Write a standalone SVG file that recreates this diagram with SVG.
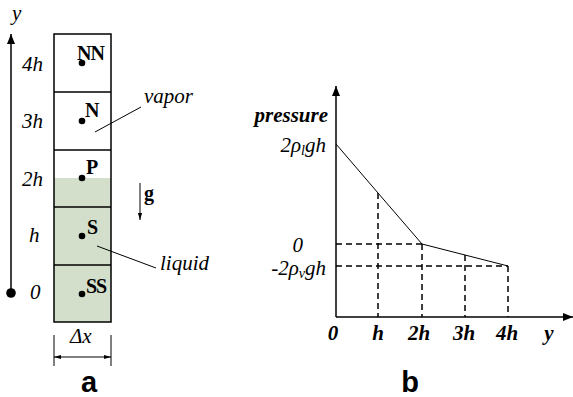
<svg xmlns="http://www.w3.org/2000/svg" width="573" height="397" viewBox="0 0 573 397" font-family="Liberation Serif, DejaVu Serif, serif">
<style>
.ln{stroke:#000;stroke-width:1.5;fill:none}
.th{stroke:#000;stroke-width:1;fill:none}
.ds{stroke:#000;stroke-width:1.5;fill:none;stroke-dasharray:6 4}
.it{font-style:italic;font-size:21px;fill:#000}
.bd{font-weight:bold;font-size:20px;fill:#000}
.bi{font-weight:bold;font-style:italic;font-size:21px;fill:#000}
.sf{font-family:'Liberation Sans',Arial,sans-serif;font-weight:bold;font-size:29px;fill:#000}
</style>
<defs>
<marker id="ah" viewBox="0 0 10 10" refX="10" refY="5" markerWidth="10" markerHeight="10" markerUnits="userSpaceOnUse" orient="auto"><path d="M0,1 L10,5 L0,9 Z" fill="#000"/></marker>
<marker id="ahs" viewBox="0 0 10 10" refX="10" refY="5" markerWidth="7" markerHeight="7" markerUnits="userSpaceOnUse" orient="auto-start-reverse"><path d="M0,2 L10,5 L0,8 Z" fill="#000"/></marker>
</defs>
<g id="panel-a">
<g id="column">
<rect x="54" y="178" width="57" height="144" fill="#d3dfca"/>
<rect x="54" y="34" width="57" height="288" class="ln"/>
<line x1="54" y1="92" x2="111" y2="92" class="ln"/>
<line x1="54" y1="150" x2="111" y2="150" class="ln"/>
<line x1="54" y1="207" x2="111" y2="207" class="ln"/>
<line x1="54" y1="265" x2="111" y2="265" class="ln"/>
</g>
<g id="node-NN"><circle cx="82" cy="63" r="3.3"/><text x="77" y="60" class="bd" letter-spacing="-1">NN</text></g>
<g id="node-N"><circle cx="82" cy="121" r="3.3"/><text x="85" y="117" class="bd">N</text></g>
<g id="node-P"><circle cx="82" cy="178" r="3.3"/><text x="86" y="174" class="bd">P</text></g>
<g id="node-S"><circle cx="82" cy="236" r="3.3"/><text x="87" y="234" class="bd">S</text></g>
<g id="node-SS"><circle cx="82" cy="294" r="3.3"/><text x="86" y="293" class="bd" letter-spacing="-1">SS</text></g>
<g id="y-axis">
<line x1="11" y1="293" x2="11" y2="34" class="ln" marker-end="url(#ah)"/>
<circle cx="11" cy="293" r="4.8"/>
<text x="12" y="20" class="it">y</text>
<text x="22" y="71" class="it">4h</text>
<text x="22" y="128" class="it">3h</text>
<text x="22" y="186" class="it">2h</text>
<text x="29" y="242" class="it">h</text>
<text x="30" y="299" class="it">0</text>
</g>
<g id="labels-a">
<line x1="95" y1="132" x2="141" y2="107" class="th"/>
<text x="144" y="103" class="it">vapor</text>
<line x1="97" y1="246" x2="156" y2="268" class="th"/>
<text x="160" y="270" class="it">liquid</text>
<line x1="140" y1="183" x2="140" y2="220" class="th" marker-end="url(#ahs)"/>
<text x="144" y="200" class="bd">g</text>
<line x1="54" y1="335" x2="54" y2="366" class="th"/>
<line x1="111" y1="335" x2="111" y2="366" class="th"/>
<line x1="54" y1="357" x2="111" y2="357" class="th" marker-start="url(#ahs)" marker-end="url(#ahs)"/>
<text x="70" y="343" class="it">Δx</text>
<text x="89" y="392" class="sf" text-anchor="middle">a</text>
</g>
</g>
<g id="panel-b">
<g id="axes">
<line x1="336" y1="317" x2="336" y2="86" class="ln" marker-end="url(#ah)"/>
<line x1="336" y1="317" x2="573" y2="317" class="ln" marker-end="url(#ah)"/>
</g>
<g id="curve">
<polyline points="336,144 378,193 422,244 465,255 508,266" class="th" stroke-width="1.3"/>
</g>
<g id="guides">
<line x1="336" y1="244" x2="422" y2="244" class="ds"/>
<line x1="336" y1="266" x2="508" y2="266" class="ds"/>
<line x1="378" y1="193" x2="378" y2="317" class="ds"/>
<line x1="422" y1="244" x2="422" y2="317" class="ds"/>
<line x1="465" y1="255" x2="465" y2="317" class="ds"/>
<line x1="508" y1="266" x2="508" y2="317" class="ds"/>
</g>
<g id="labels-b">
<text x="328" y="122" class="bi" text-anchor="end">pressure</text>
<text x="326" y="152" class="it" text-anchor="end">2ρ<tspan font-size="14" dy="3">l</tspan><tspan dy="-3">gh</tspan></text>
<text x="303" y="252" class="it" text-anchor="end">0</text>
<text x="326" y="275" class="it" text-anchor="end">-2ρ<tspan font-size="14" dy="3">v</tspan><tspan dy="-3">gh</tspan></text>
<text x="333" y="340" class="bi" text-anchor="middle">0</text>
<text x="378" y="340" class="bi" text-anchor="middle">h</text>
<text x="419" y="340" class="bi" text-anchor="middle">2h</text>
<text x="464" y="340" class="bi" text-anchor="middle">3h</text>
<text x="507" y="340" class="bi" text-anchor="middle">4h</text>
<text x="549" y="340" class="bi" text-anchor="middle">y</text>
<text x="410" y="392" class="sf" text-anchor="middle">b</text>
</g>
</g>
</svg>
